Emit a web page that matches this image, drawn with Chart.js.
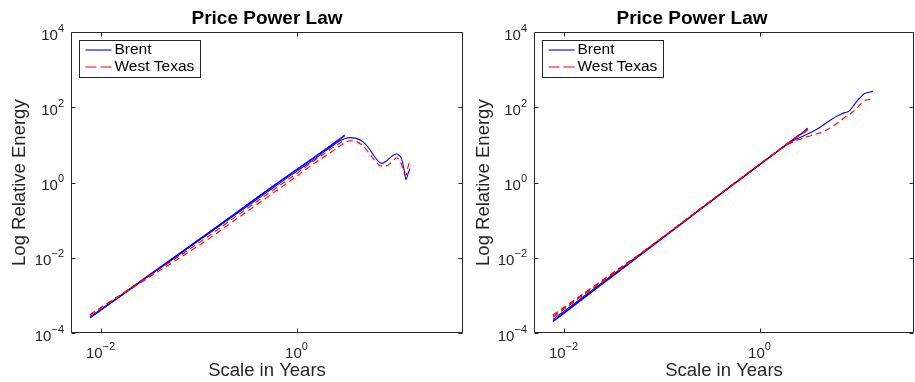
<!DOCTYPE html>
<html><head><meta charset="utf-8">
<script src="https://cdn.jsdelivr.net/npm/chart.js@4/dist/chart.umd.min.js"></script>
<style>
html,body{margin:0;padding:0;background:#fff;overflow:hidden;width:915px;height:382px;position:relative;}
canvas{position:absolute;top:0;}
#c1{left:0;width:470px;height:382px;}
#c2{left:470px;width:520px;height:382px;}
</style></head><body>
<canvas id="c1" width="470" height="382"></canvas>
<canvas id="c2" width="520" height="382"></canvas>
<script>
// ---------- data ----------
const chartTitle = 'Price Power Law';
const xTitle = 'Scale in Years';
const yTitle = 'Log Relative Energy';
const seriesNames = ['Brent', 'West Texas'];

const xTickValues = [0.01, 1];
const xTickLabels = ['10^-2', '10^0'];
const yTickValues = [1e-4, 1e-2, 1, 1e2, 1e4];
const yTickLabels = ['10^-4', '10^-2', '10^0', '10^2', '10^4'];

const xRangeLeft = [0.005, 50];
const xRangeRight = [0.005, 37.7];
const yRange = [1e-4, 1e4];

// scales (years)
const scaleYears = [0.0078, 0.0156, 0.031, 0.0625, 0.125, 0.25, 0.5, 1.0, 1.5, 2.0, 2.5, 2.75, 3.1,
  3.5, 4.0, 4.75, 5.4, 6.1, 7.0, 7.4, 8.2, 9.0, 10.0, 10.5, 11.2, 11.8, 12.5, 13.1, 13.7, 14.4];

// left panel
const brentLeftA = [2.6e-4, 9.5e-4, 3.45e-3, 0.0126, 0.046, 0.168, 0.63, 2.25, 4.7, 8.0, 12.2, 14.6, 18.5];
const brentLeftB = [2.7e-4, 9.3e-4, 3.3e-3, 0.0121, 0.0445, 0.163, 0.61, 2.15, 4.5, 7.7, 11.7, 14.0, 17.6];
const brentLeftLong = [2.5e-4, 9.0e-4, 3.25e-3, 0.0118, 0.043, 0.155, 0.56, 2.0, 4.1, 7.2, 10.8, 12.8, 14.8,
  15.8, 15.3, 12.3, 8.6, 5.4, 3.5, 3.25, 3.7, 4.6, 5.6, 5.8, 5.3, 4.3, 2.3, 1.2, 1.7, 2.4];
const wtiLeftA = [3.1e-4, 1.0e-3, 3.3e-3, 0.0108, 0.037, 0.135, 0.49, 1.75, 3.8, 6.4, 9.6, 11.2, 13.8];
const wtiLeftLong = [3.0e-4, 9.5e-4, 3.0e-3, 9.5e-3, 0.031, 0.113, 0.405, 1.47, 3.2, 5.3, 7.8, 9.3, 11.5,
  13.0, 12.6, 9.6, 6.5, 4.3, 2.9, 2.75, 2.8, 3.2, 4.2, 4.6, 4.0, 3.0, 1.8, 1.6, 2.6, 3.8];

// right panel
const brentRightA = [2.1e-4, 8.3e-4, 3.2e-3, 0.0128, 0.050, 0.197, 0.77, 3.0, 6.6, 11.8, 18.0, 21.5, 28.0];
const brentRightB = [2.3e-4, 8.8e-4, 3.4e-3, 0.0133, 0.051, 0.20, 0.78, 3.05, 6.7, 11.6, 17.5, 20.8, 26.5];
const brentRightLong = [2.0e-4, 7.9e-4, 3.1e-3, 0.0124, 0.049, 0.194, 0.76, 2.95, 6.5, 11.2, 15.2, 17.0, 19.8,
  23, 28, 38, 48, 58, 69, 73, 80, 108, 155, 176, 210, 235, 245, 255, 262, 272];
const wtiRightA = [2.8e-4, 1.05e-3, 3.7e-3, 0.0135, 0.052, 0.205, 0.80, 3.1, 6.8, 12.0, 18.2, 21.5, 26.5];
const wtiRightB = [2.6e-4, 9.8e-4, 3.5e-3, 0.0131, 0.051, 0.200, 0.78, 3.05, 6.7, 11.7, 17.5, 20.5, 25.0];
const wtiRightLong = [3.0e-4, 1.07e-3, 3.8e-3, 0.0136, 0.052, 0.205, 0.80, 3.1, 6.6, 10.8, 13.8, 15.0, 16.8,
  18.5, 20.5, 24.5, 30, 37, 48, 55, 63, 78, 100, 116, 135, 150, 160, 163, 164, 165];

// ---------- styling ----------
const BLUE = '#0000ff', RED = '#ff0000', AXIS = '#262626';
const FONT = "'Liberation Sans', Arial, Helvetica, sans-serif";
Chart.defaults.font.family = FONT;

function mkLine(vals, isRed) {
  const data = [];
  vals.forEach((v, i) => { if (v != null) data.push({x: scaleYears[i], y: v}); });
  return {
    data,
    borderColor: isRed ? RED : BLUE,
    borderWidth: 1.1,
    borderDash: isRed ? [6, 4] : [],
    pointRadius: 0,
    fill: false,
    cubicInterpolationMode: 'monotone',
    order: isRed ? 1 : 2
  };
}

function drawPow(ctx, label, x, yBase, align) {
  const parts = label.split('^');
  const base = parts[0];
  const exp = (parts[1] || '').replace('-', '\u2212');
  ctx.font = '15px ' + FONT; const w1 = ctx.measureText(base).width;
  ctx.font = '11px ' + FONT; const w2 = ctx.measureText(exp).width;
  const w = w1 + w2;
  const x0 = align === 'center' ? x - w / 2 : x - w;
  ctx.font = '15px ' + FONT; ctx.fillText(base, x0, yBase);
  ctx.font = '11px ' + FONT; ctx.fillText(exp, x0 + w1, yBase - 8);
}

const boxPlugin = {
  id: 'matlabBox',
  afterDatasetsDraw(chart) {
    const {ctx, chartArea: a, scales: {x, y}} = chart;
    const L = Math.round(a.left) + 0.5, R = Math.round(a.right) - 0.5;
    const T = Math.round(a.top) + 0.5, B = Math.round(a.bottom) - 0.5;
    ctx.save();
    ctx.strokeStyle = AXIS; ctx.lineWidth = 1;
    ctx.beginPath();
    ctx.rect(L, T, R - L, B - T);
    const tl = 4;
    x.ticks.forEach(t => {
      const p = Math.round(x.getPixelForValue(t.value)) + 0.5;
      ctx.moveTo(p, B); ctx.lineTo(p, B - tl);
      ctx.moveTo(p, T); ctx.lineTo(p, T + tl);
    });
    y.ticks.forEach(t => {
      const p = Math.round(y.getPixelForValue(t.value)) + 0.5;
      ctx.moveTo(L, p); ctx.lineTo(L + tl, p);
      ctx.moveTo(R, p); ctx.lineTo(R - tl, p);
    });
    ctx.stroke();

    // tick labels (10 with superscript exponent)
    ctx.fillStyle = AXIS;
    ctx.textBaseline = 'alphabetic';
    ctx.textAlign = 'left';
    x.ticks.forEach((t, i) => {
      drawPow(ctx, xTickLabels[i], x.getPixelForValue(t.value), a.bottom + 25, 'center');
    });
    y.ticks.forEach((t, i) => {
      drawPow(ctx, yTickLabels[i], a.left - 7, y.getPixelForValue(t.value) + 7.5, 'right');
    });

    // legend
    const bx = Math.round(a.left) + 8.5, by = Math.round(a.top) + 8.5, bw = 121, bh = 37;
    ctx.fillStyle = '#fff';
    ctx.fillRect(bx, by, bw, bh);
    ctx.strokeRect(bx, by, bw, bh);
    ctx.font = '15.5px ' + FONT;
    ctx.textBaseline = 'middle';
    seriesNames.forEach((name, i) => {
      const cy = by + 9.5 + i * 17;
      ctx.beginPath();
      ctx.strokeStyle = i === 0 ? BLUE : RED;
      ctx.lineWidth = 1.1;
      ctx.setLineDash(i === 0 ? [] : [11, 4]);
      ctx.moveTo(bx + 6, cy); ctx.lineTo(bx + 32, cy);
      ctx.stroke();
      ctx.setLineDash([]);
      ctx.fillStyle = '#000';
      ctx.fillText(name, bx + 35, cy);
    });
    ctx.restore();
  }
};

function makeChart(id, datasets, xRange, yWidth, padRight, yTitlePad, titleFull) {
  return new Chart(document.getElementById(id), {
    type: 'line',
    data: {datasets},
    plugins: [boxPlugin],
    options: {
      responsive: false, animation: false, devicePixelRatio: 1,
      layout: {padding: {left: 0, right: padRight, top: 0, bottom: 0}},
      plugins: {
        legend: {display: false}, tooltip: {enabled: false},
        title: {display: true, text: chartTitle, fullSize: titleFull, color: '#000',
          font: {size: 19, weight: 'bold', lineHeight: 1.2}, padding: {top: 7, bottom: 2.5}}
      },
      scales: {
        x: {
          type: 'logarithmic', min: xRange[0], max: xRange[1],
          afterBuildTicks: s => { s.ticks = xTickValues.map(v => ({value: v})); },
          afterFit: s => { s.height = 49; },
          grid: {display: false, drawTicks: false}, border: {display: false},
          ticks: {display: false},
          title: {display: true, text: xTitle, color: AXIS, font: {size: 18.5, lineHeight: 1.2}, padding: {top: 0, bottom: 0}}
        },
        y: {
          type: 'logarithmic', min: yRange[0], max: yRange[1],
          afterBuildTicks: s => { s.ticks = yTickValues.map(v => ({value: v})); },
          afterFit: s => { s.width = yWidth; },
          grid: {display: false, drawTicks: false}, border: {display: false},
          ticks: {display: false},
          title: {display: true, text: yTitle, color: AXIS, font: {size: 18.5, lineHeight: 1.2}, padding: {top: yTitlePad, bottom: 0}}
        }
      }
    }
  });
}

makeChart('c1', [
  mkLine(brentLeftA, false), mkLine(brentLeftB, false), mkLine(brentLeftLong, false),
  mkLine(wtiLeftA, true), mkLine(wtiLeftLong, true)
], xRangeLeft, 71, 7, 9, false);

makeChart('c2', [
  mkLine(brentRightA, false), mkLine(brentRightB, false), mkLine(brentRightLong, false),
  mkLine(wtiRightA, true), mkLine(wtiRightB, true), mkLine(wtiRightLong, true)
], xRangeRight, 64, 76, 2.5, true);
</script>
</body></html>
